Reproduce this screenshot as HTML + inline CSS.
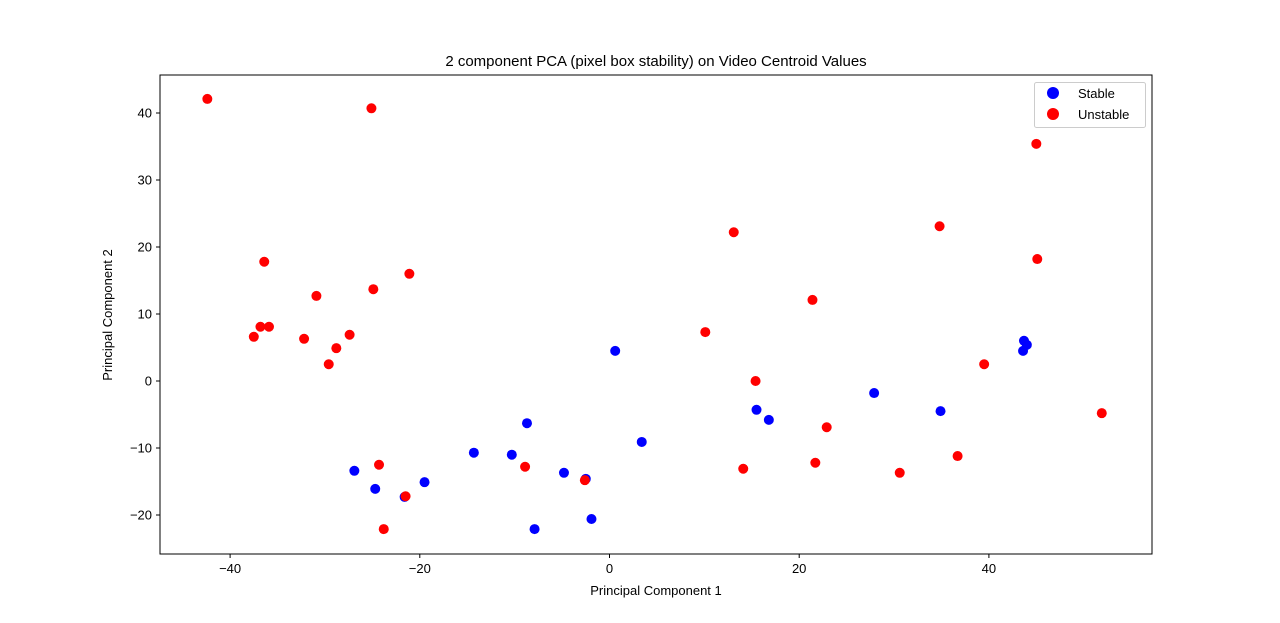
<!DOCTYPE html>
<html><head><meta charset="utf-8"><style>
html,body{margin:0;padding:0;background:#fff;}
svg{display:block;font-family:"Liberation Sans","DejaVu Sans",sans-serif;}
</style></head><body>
<svg id="chart" width="1280" height="623" xmlns="http://www.w3.org/2000/svg">
<rect x="0" y="0" width="1280" height="623" fill="#fff"/>
<text x="656" y="66" font-size="15" text-anchor="middle">2 component PCA (pixel box stability) on Video Centroid Values</text>
<text x="656" y="595" font-size="13" text-anchor="middle">Principal Component 1</text>
<text x="112" y="315" font-size="13" text-anchor="middle" transform="rotate(-90 112 315)">Principal Component 2</text>
<g id="ticks"></g>
<g id="marks"></g>
<rect x="160" y="75" width="992" height="479" fill="none" stroke="#000" stroke-width="1"/>
<g>
<rect x="1034.5" y="82.5" width="111" height="45" rx="2" fill="#fff" stroke="#ccc"/>
<circle cx="1053" cy="93" r="6" fill="#0000ff"/>
<text x="1078" y="98" font-size="13">Stable</text>
<circle cx="1053" cy="114" r="6" fill="#ff0000"/>
<text x="1078" y="119" font-size="13">Unstable</text>
</g>
</svg>
<script>
const xTicks=[-40,-20,0,20,40];
const yTicks=[-20,-10,0,10,20,30,40];
const stableX=[-26.9,-24.7,-21.6,-19.5,-14.3,-10.3,-8.7,-7.9,-4.8,-2.5,-1.9,0.6,3.4,15.5,16.8,27.9,34.9,43.7,44.0,43.6];
const stableY=[-13.4,-16.1,-17.3,-15.1,-10.7,-11.0,-6.3,-22.1,-13.7,-14.6,-20.6,4.5,-9.1,-4.3,-5.8,-1.8,-4.5,6.0,5.4,4.5];
const unstableX=[-42.4,-25.1,-36.4,-21.1,-30.9,-24.9,-36.8,-35.9,-37.5,-32.2,-27.4,-28.8,-29.6,-24.3,-21.5,-23.8,-8.9,-2.6,13.1,10.1,21.4,15.4,14.1,21.7,22.9,34.8,45.0,45.1,39.5,36.7,30.6,51.9];
const unstableY=[42.1,40.7,17.8,16.0,12.7,13.7,8.1,8.1,6.6,6.3,6.9,4.9,2.5,-12.5,-17.2,-22.1,-12.8,-14.8,22.2,7.3,12.1,0,-13.1,-12.2,-6.9,23.1,35.4,18.2,2.5,-11.2,-13.7,-4.8];
const NS="http://www.w3.org/2000/svg";
function sx(v){return 609.5+v*9.485;}
function sy(v){return 381-v*6.7;}
const tg=document.getElementById('ticks');
xTicks.forEach(t=>{
 const l=document.createElementNS(NS,'line');
 l.setAttribute('x1',sx(t));l.setAttribute('x2',sx(t));l.setAttribute('y1',554);l.setAttribute('y2',558);l.setAttribute('stroke','#000');
 
 
 tg.appendChild(l);
 const tx=document.createElementNS(NS,'text');
 tx.setAttribute('x',sx(t));tx.setAttribute('y',573);tx.setAttribute('font-size','13');tx.setAttribute('text-anchor','middle');
 tx.textContent=t<0?'\u2212'+Math.abs(t):String(t);
 
 
 tg.appendChild(tx);
});
yTicks.forEach(t=>{
 const l=document.createElementNS(NS,'line');
 l.setAttribute('x1',156);l.setAttribute('x2',160);l.setAttribute('y1',sy(t));l.setAttribute('y2',sy(t));l.setAttribute('stroke','#000');
 
 
 tg.appendChild(l);
 const tx=document.createElementNS(NS,'text');
 tx.setAttribute('x',152);tx.setAttribute('y',sy(t)+4.5);tx.setAttribute('font-size','13');tx.setAttribute('text-anchor','end');
 tx.textContent=t<0?'\u2212'+Math.abs(t):String(t);
 
 
 tg.appendChild(tx);
});
const mg=document.getElementById('marks');
stableX.forEach((v,i)=>{
 const c=document.createElementNS(NS,'circle');
 c.setAttribute('cx',sx(v));c.setAttribute('cy',sy(stableY[i]));c.setAttribute('r',5);c.setAttribute('fill','#0000ff');
 
 
 mg.appendChild(c);
});
unstableX.forEach((v,i)=>{
 const c=document.createElementNS(NS,'circle');
 c.setAttribute('cx',sx(v));c.setAttribute('cy',sy(unstableY[i]));c.setAttribute('r',5);c.setAttribute('fill','#ff0000');
 
 
 mg.appendChild(c);
});
</script>
</body></html>
